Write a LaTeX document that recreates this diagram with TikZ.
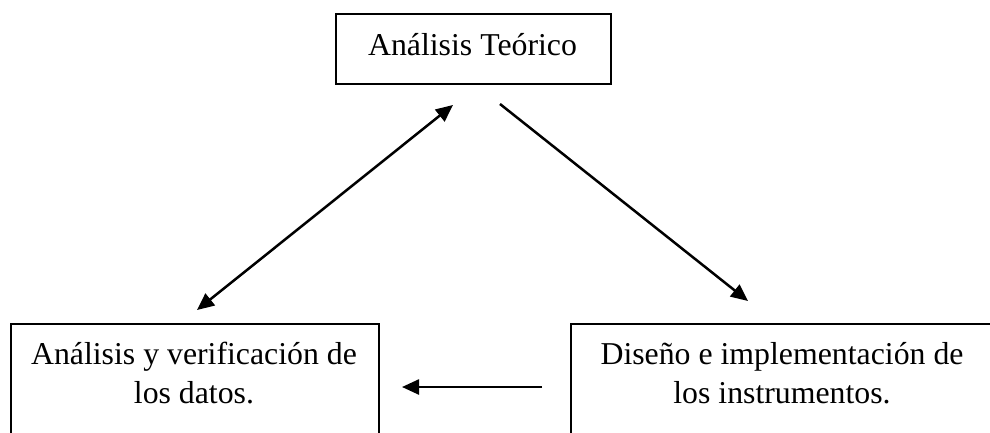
\documentclass[tikz,border=0pt]{standalone}
\usepackage{fontspec}
\setmainfont{Liberation Serif}
\usetikzlibrary{arrows.meta}
\begin{document}
\begin{tikzpicture}[x=1pt,y=-1pt,
  box/.style={draw=black,line width=1.8pt,inner sep=0pt,anchor=north west},
  txt/.style={font=\fontsize{31.8}{38.5}\selectfont,align=center,inner sep=0pt,anchor=base},
  arr/.style={line width=2.5pt,-{Triangle[length=17pt,width=15pt]}},
  darr/.style={line width=2.5pt,{Triangle[length=17pt,width=15pt]}-{Triangle[length=17pt,width=15pt]}}]
\useasboundingbox (0,0) rectangle (990,432);
\node[box,minimum width=275pt,minimum height=70pt] (T) at (335,13) {};
\node[txt] (Tt) at (472.5,55) {Análisis Teórico};
\node[box,minimum width=368pt,minimum height=125pt] (L) at (10,323) {};
\node[txt] (Lt) at (194,403) {Análisis y verificación de\\los datos.};
\node[box,minimum width=425pt,minimum height=125pt] (R) at (570,323) {};
\node[txt] (Rt) at (782,403) {Diseño e implementación de\\los instrumentos.};
\coordinate (a1) at (197,310);
\coordinate (a2) at (453,105);
\coordinate (b1) at (500,104);
\coordinate (b2) at (748,301);
\coordinate (c1) at (542,387);
\coordinate (c2) at (402,387);
\draw[darr] (a1) -- (a2);
\draw[arr] (b1) -- (b2);
\draw[arr] (c1) -- (c2);
\end{tikzpicture}
\end{document}
